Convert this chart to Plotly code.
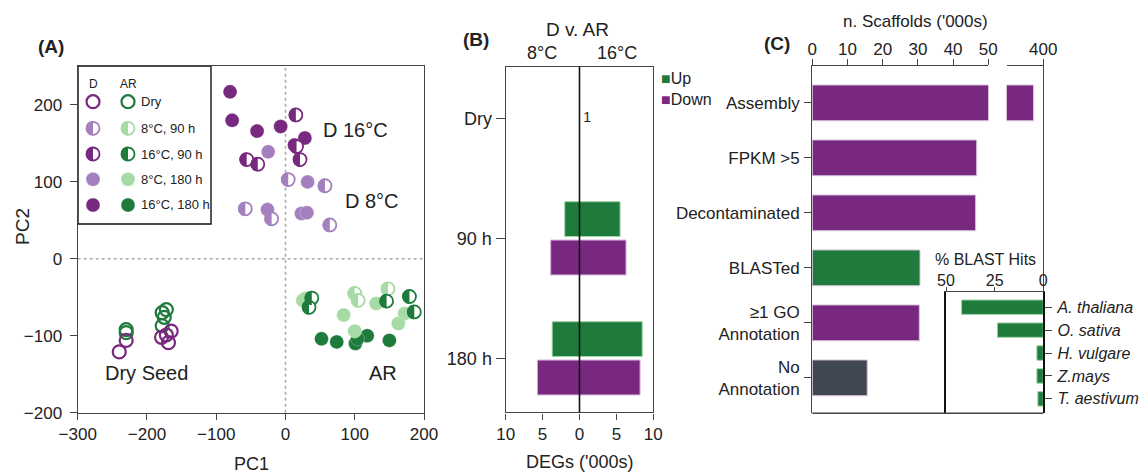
import plotly.graph_objects as go
import numpy as np

W, H = 1145, 474
FONT = "Liberation Sans, Arial, sans-serif"
INK = "#222222"
LINE = "#444444"

PURPLE = "#78287f"
PURPLE_L = "#a580be"
GREEN = "#1e7b3b"
GREEN_L = "#a6dba6"
GRAY = "#3f4750"

# ---------------- Panel A data (PCA) ----------------
d_dry_x = [-240, -230, -165, -179, -169, -172]
d_dry_y = [-121, -106, -94, -102, -109, -99]
ar_dry_x = [-230, -230, -178, -175, -172, -178]
ar_dry_y = [-92, -96, -70, -76, -66, -87]
d16_180_x = [-80, -77, -41, -7, 28, 13]
d16_180_y = [217, 180, 166, 172, 157, 148]
d8_180_x = [-25, 32, -26, 23, 31]
d8_180_y = [139, 100, 64, 59, 60]
ar16_180_x = [52, 74, 101, 118, 150, 104]
ar16_180_y = [-104, -108, -110, -100, -106, -104]
ar8_180_x = [25, 84, 100, 131, 172, 163]
ar8_180_y = [-54, -73, -94, -58, -71, -84]
d16_90_x = [15, -56, -40, 21, 16]
d16_90_y = [187, 129, 123, 129, 146]
d8_90_x = [4, 57, -58, -20, 64]
d8_90_y = [103, 95, 65, 52, 44]
ar16_90_x = [38, 34, 146, 179, 186]
ar16_90_y = [-51, -63, -55, -49, -69]
ar8_90_x = [30, 100, 105, 148, 35]
ar8_90_y = [-52, -45, -54, -39, -56]

legend_rows = ["Dry", "8°C, 90 h", "16°C, 90 h", "8°C, 180 h", "16°C, 180 h"]

# ---------------- Panel B data (DEGs, '000s) ----------------
deg_cats = ["Dry", "90 h", "180 h"]
up_8c = [0, 2.0, 3.7]
up_16c = [0, 5.5, 8.5]
down_8c = [0, 3.9, 5.7]
down_16c = [0, 6.3, 8.2]
dry_deg_count = "1"

# ---------------- Panel C data ----------------
stage_labels = ["Assembly", "FPKM >5", "Decontaminated", "BLASTed",
                "≥1 GO<br>Annotation", "No<br>Annotation"]
scaffolds_k = [392, 46.7, 46.4, 30.6, 30.4, 15.6]
stage_colors = [PURPLE, PURPLE, PURPLE, GREEN, PURPLE, GRAY]
species = ["A. thaliana", "O. sativa", "H. vulgare", "Z.mays", "T. aestivum"]
blast_pct = [42, 23.6, 3.3, 3.3, 2.8]


def fx(px):
    return px / W


def fy(py):
    return 1 - py / H


# panel geometry (pixels)
A_X = (77.7, 424.0)
A_Y = (65.7, 412.7)
A_XR = [-300, 200]
A_YR = [-200, 251]
L_X = (78.0, 211.0)
L_Y = (66.0, 224.0)
L_XR = [0, L_X[1] - L_X[0]]
L_YR = [L_Y[1] - L_Y[0], 0]

MS = 14
fig = go.Figure()


def open_pts(xs, ys, color, xa="x", ya="y"):
    fig.add_trace(go.Scatter(x=xs, y=ys, mode="markers", xaxis=xa, yaxis=ya,
                             marker=dict(size=MS - 1, color="rgba(0,0,0,0)", symbol="circle",
                                         line=dict(color=color, width=2.2)),
                             hoverinfo="skip", showlegend=False))


def full_pts(xs, ys, color, xa="x", ya="y"):
    fig.add_trace(go.Scatter(x=xs, y=ys, mode="markers", xaxis=xa, yaxis=ya,
                             marker=dict(size=MS, color=color, symbol="circle",
                                         line=dict(color="rgba(255,255,255,0.5)", width=0.5)),
                             hoverinfo="skip", showlegend=False))


def half_pts(xs, ys, color, xa, ya, xr, yr, pxw, pxh):
    # white disc with coloured rim
    fig.add_trace(go.Scatter(x=xs, y=ys, mode="markers", xaxis=xa, yaxis=ya,
                             marker=dict(size=MS - 1, color="white", symbol="circle",
                                         line=dict(color=color, width=1.8)),
                             hoverinfo="skip", showlegend=False))
    # left half filled; radius converted from pixels to data units via the axis scale
    r_px = 7.3
    rx = r_px * abs(xr[1] - xr[0]) / pxw
    ry = r_px * abs(yr[1] - yr[0]) / pxh
    t = np.linspace(np.pi / 2, 3 * np.pi / 2, 25)
    px_, py_ = [], []
    for x0, y0 in zip(xs, ys):
        px_ += list(x0 + rx * np.cos(t)) + [x0, None]
        py_ += list(y0 + ry * np.sin(t)) + [y0 + ry, None]
    fig.add_trace(go.Scatter(x=px_, y=py_, mode="lines", fill="toself", xaxis=xa, yaxis=ya,
                             fillcolor=color, line=dict(width=0, color=color),
                             hoverinfo="skip", showlegend=False))


A_GEOM = ("x", "y", A_XR, A_YR, A_X[1] - A_X[0], A_Y[1] - A_Y[0])
L_GEOM = ("x6", "y6", L_XR, L_YR, L_X[1] - L_X[0], L_Y[1] - L_Y[0])

# Panel A points
open_pts(ar_dry_x, ar_dry_y, GREEN)
open_pts(d_dry_x, d_dry_y, PURPLE)
full_pts(d16_180_x, d16_180_y, PURPLE)
full_pts(d8_180_x, d8_180_y, PURPLE_L)
full_pts(ar16_180_x, ar16_180_y, GREEN)
full_pts(ar8_180_x, ar8_180_y, GREEN_L)
half_pts(d16_90_x, d16_90_y, PURPLE, *A_GEOM)
half_pts(d8_90_x, d8_90_y, PURPLE_L, *A_GEOM)
half_pts(ar8_90_x, ar8_90_y, GREEN_L, *A_GEOM)
half_pts(ar16_90_x, ar16_90_y, GREEN, *A_GEOM)

# Panel A legend keys (hidden helper axis in pixel units inside the box)
KEY_X = [15, 50]
KEY_Y = [35.7, 62.3, 88, 113.3, 139]
for kx, col, col_l in [(KEY_X[0], PURPLE, PURPLE_L), (KEY_X[1], GREEN, GREEN_L)]:
    open_pts([kx], [KEY_Y[0]], col, "x6", "y6")
    half_pts([kx], [KEY_Y[1]], col_l, *L_GEOM)
    half_pts([kx], [KEY_Y[2]], col, *L_GEOM)
    full_pts([kx], [KEY_Y[3]], col_l, "x6", "y6")
    full_pts([kx], [KEY_Y[4]], col, "x6", "y6")

# Panel B bars
ycat = list(range(len(deg_cats)))
BW = 0.29
for vals, sign, col, edge, off in [
    (up_8c, -1, GREEN, "#9fd3a6", -0.305), (up_16c, 1, GREEN, "#9fd3a6", -0.305),
    (down_8c, -1, PURPLE, "#d2a6d6", 0.015), (down_16c, 1, PURPLE, "#d2a6d6", 0.015)]:
    fig.add_trace(go.Bar(y=ycat, x=[sign * v for v in vals], orientation="h",
                         width=BW, offset=off, xaxis="x2", yaxis="y2",
                         marker=dict(color=col, line=dict(color=edge, width=1)),
                         hoverinfo="skip", showlegend=False))
fig.add_trace(go.Scatter(x=[0.5], y=[0], mode="text", text=[dry_deg_count],
                         textposition="middle right", xaxis="x2", yaxis="y2",
                         textfont=dict(size=14, color=INK, family=FONT),
                         hoverinfo="skip", showlegend=False))

# Panel C bars (broken axis: two segments)
sy = list(range(len(stage_labels)))
for xa, ya in [("x3", "y3"), ("x4", "y4")]:
    fig.add_trace(go.Bar(y=sy, x=scaffolds_k, orientation="h", width=0.65,
                         xaxis=xa, yaxis=ya,
                         marker=dict(color=stage_colors, line=dict(color="#d9c2de", width=1)),
                         hoverinfo="skip", showlegend=False))

# Inset
spy = list(range(len(species)))
fig.add_trace(go.Bar(y=spy, x=blast_pct, orientation="h", width=0.63,
                     xaxis="x5", yaxis="y5",
                     marker=dict(color=GREEN, line=dict(color="#9fd3a6", width=1)),
                     hoverinfo="skip", showlegend=False))

tickfont = dict(size=17, color=INK, family=FONT)
axbase = dict(showline=True, linecolor=LINE, linewidth=1.4, ticks="outside",
              ticklen=6, tickwidth=1.4, tickcolor=LINE, showgrid=False, zeroline=False,
              tickfont=tickfont, automargin=False)

layout = dict(
    width=W, height=H, margin=dict(l=0, r=0, t=0, b=0, autoexpand=False),
    paper_bgcolor="white", plot_bgcolor="rgba(0,0,0,0)",
    font=dict(family=FONT, color=INK), showlegend=False,
    barmode="overlay",
    # Panel A
    xaxis=dict(axbase, domain=[fx(A_X[0]), fx(A_X[1])], range=A_XR, anchor="y",
               tickvals=[-300, -200, -100, 0, 100, 200], mirror=True),
    yaxis=dict(axbase, domain=[fy(A_Y[1]), fy(A_Y[0])], range=A_YR, anchor="x",
               tickvals=[-200, -100, 0, 100, 200], mirror=True, ticklen=7,
               ticklabelstandoff=4),
    # Panel B
    xaxis2=dict(axbase, domain=[fx(505.7), fx(653.3)], range=[-10, 10], anchor="y2",
                tickvals=[-10, -5, 0, 5, 10], ticktext=["10", "5", "0", "5", "10"],
                mirror=True),
    yaxis2=dict(axbase, domain=[fy(412.3), fy(66.7)], range=[2.45, -0.43], anchor="x2",
                tickvals=ycat, ticktext=deg_cats, mirror=True, ticklen=9,
                tickfont=dict(size=18, color=INK, family=FONT)),
    # Panel C main segment
    xaxis3=dict(axbase, domain=[fx(812.3), fx(988.3)], range=[0, 50], anchor="y3",
                side="top", tickvals=[0, 10, 20, 30, 40, 50], ticklen=6,
                ticklabelstandoff=-3),
    yaxis3=dict(axbase, domain=[fy(413.3), fy(66)], range=[5.645, -0.67], anchor="x3",
                tickvals=sy, ticktext=stage_labels, ticklen=7, ticklabelstandoff=1,
                tickfont=dict(size=17, color=INK, family=FONT)),
    # Panel C broken segment
    xaxis4=dict(axbase, domain=[fx(1006.7), fx(1043.3)], range=[370, 400], anchor="y4",
                side="top", tickvals=[400], ticklen=6, ticklabelstandoff=-3),
    yaxis4=dict(axbase, domain=[fy(413.3), fy(66)], range=[5.645, -0.67], anchor="x4",
                side="right", ticks="", showticklabels=False),
    # Inset
    xaxis5=dict(axbase, domain=[fx(946), fx(1043.3)], range=[50, 0], anchor="y5",
                side="top", tickvals=[50, 25, 0], ticklen=4, ticklabelstandoff=-6,
                tickfont=dict(size=16, color=INK, family=FONT)),
    yaxis5=dict(axbase, domain=[fy(413.3), fy(291.7)], range=[4.63, -0.677], anchor="x5",
                side="right", mirror=True, linecolor="#111111", linewidth=2,
                tickvals=spy, ticktext=["<i>%s</i>" % s for s in species], ticklen=7,
                ticklabelstandoff=2,
                tickfont=dict(size=16, color=INK, family=FONT)),
    # Legend helper axis for panel A
    xaxis6=dict(domain=[fx(L_X[0]), fx(L_X[1])], range=L_XR, anchor="y6", visible=False,
                automargin=False),
    yaxis6=dict(domain=[fy(L_Y[1]), fy(L_Y[0])], range=L_YR, anchor="x6", visible=False,
                automargin=False),
)
fig.update_layout(**layout)

shapes = [
    # legend box panel A
    dict(type="rect", xref="paper", yref="paper", x0=fx(L_X[0]), x1=fx(L_X[1]),
         y0=fy(L_Y[1]), y1=fy(L_Y[0]),
         line=dict(color="#111111", width=1.4), fillcolor="white", layer="below"),
    # dotted zero lines panel A
    dict(type="line", xref="x", yref="y domain", x0=0, x1=0, y0=0, y1=1,
         line=dict(color="#aaaaaa", width=1.6, dash="dot"), layer="below"),
    dict(type="line", xref="x domain", yref="y", x0=0, x1=1, y0=0, y1=0,
         line=dict(color="#aaaaaa", width=1.6, dash="dot"), layer="below"),
    # zero line panel B
    dict(type="line", xref="x2", yref="y2 domain", x0=0, x1=0, y0=0, y1=1,
         line=dict(color="#111111", width=1.6), layer="above"),
    # bottom frame of panel C
    dict(type="line", xref="paper", yref="paper", x0=fx(812.3), x1=fx(1043.3),
         y0=fy(413.3), y1=fy(413.3), line=dict(color=LINE, width=1.4)),
]
fig.update_layout(shapes=shapes)


def ann(text, px, py, size, xanchor="center", bold=False, angle=0, color=INK):
    return dict(text="<b>%s</b>" % text if bold else text, x=fx(px), y=fy(py),
                xref="paper", yref="paper", showarrow=False, xanchor=xanchor,
                yanchor="middle", textangle=angle,
                font=dict(size=size, color=color, family=FONT))


anns = [
    ann("(A)", 51, 46, 19, bold=True),
    ann("(B)", 476, 40, 19, bold=True),
    ann("(C)", 777, 43, 19, bold=True),
    ann("PC1", 251, 464, 18),
    ann("PC2", 22, 227, 19, angle=-90),
    ann("D 16°C", 355, 130, 20),
    ann("D 8°C", 372, 201, 20),
    ann("Dry Seed", 146, 373, 20),
    ann("AR", 383, 373, 20),
    ann("D", 93, 84, 12),
    ann("AR", 128, 84, 12),
    ann("D v. AR", 577, 29, 19),
    ann("8°C", 542, 53, 18),
    ann("16°C", 617, 53, 18),
    ann("DEGs ('000s)", 579, 462, 18),
    ann("<span style='color:%s'>■</span>Up" % GREEN, 659, 79, 16, xanchor="left"),
    ann("<span style='color:%s'>■</span>Down" % PURPLE, 659, 100, 16, xanchor="left"),
    ann("n. Scaffolds ('000s)", 915, 21, 17),
    ann("% BLAST Hits", 985, 259, 16),
]
for i, lab in enumerate(legend_rows):
    anns.append(ann(lab, 139, L_Y[0] + KEY_Y[i], 13, xanchor="left"))
fig.update_layout(annotations=anns)

fig.write_html("out.html", config={"displayModeBar": False},
               post_script="document.body.style.margin='0';")
